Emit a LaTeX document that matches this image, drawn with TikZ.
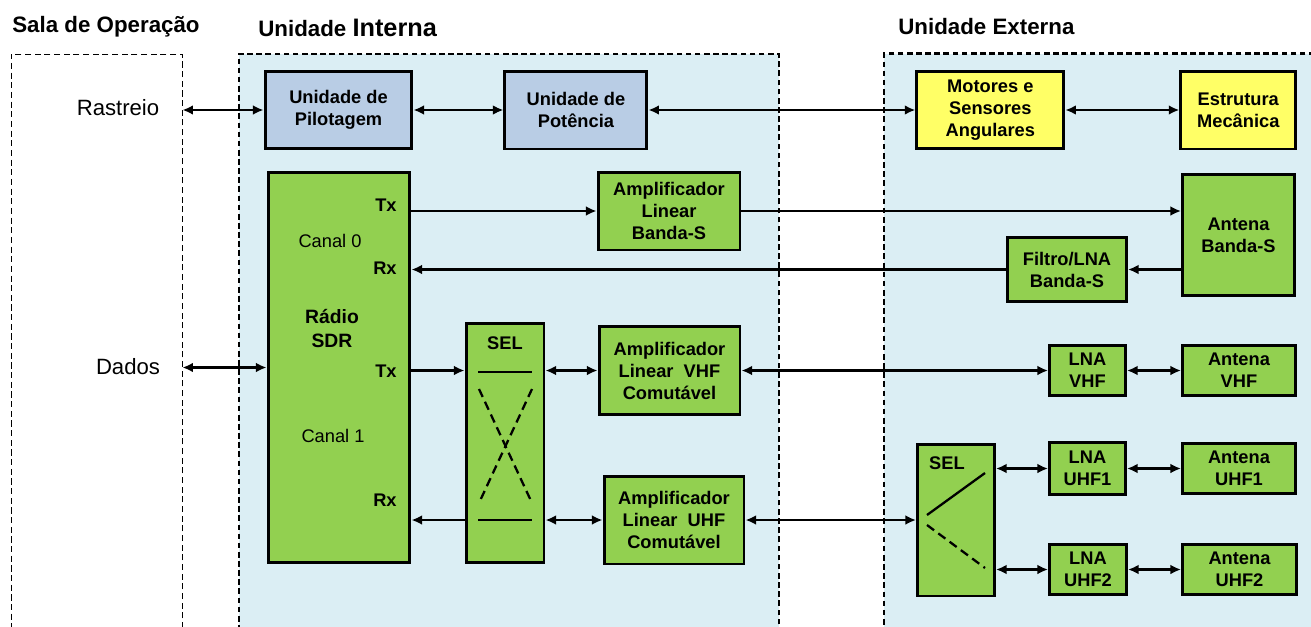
\documentclass[tikz,border=0pt]{standalone}
\usepackage{fontspec}
\setmainfont{Liberation Sans}
\usetikzlibrary{positioning,arrows.meta}
\definecolor{bgblue}{HTML}{DBEEF4}
\definecolor{pilblue}{HTML}{B9CDE5}
\definecolor{motyellow}{HTML}{FFFF66}
\definecolor{sdrgreen}{HTML}{92D050}

\begin{document}
\begin{tikzpicture}[
        x=0.02cm, y=-0.02cm,
        >={Latex[length=6pt,width=5.5pt]},
        blkbox/.style={draw, line width=1.7pt, align=center, inner sep=0.5pt, font=\bfseries\fontsize{10.4}{12.5}\selectfont},
        pilbox/.style={blkbox, fill=pilblue},
        motbox/.style={blkbox, fill=motyellow},
        grnbox/.style={blkbox, fill=sdrgreen},
        unitframe/.style={draw, fill=bgblue, line width=1.4pt, dash pattern=on 3.2pt off 2pt, inner sep=0pt, minimum height=12.12cm},
        salaframe/.style={draw, line width=0.5pt, dash pattern=on 3.5pt off 2pt, inner sep=0pt, minimum width=3.42cm, minimum height=12.12cm},
        titletext/.style={anchor=west, inner sep=0pt, font=\bfseries\fontsize{12.7}{15}\selectfont},
        sidetext/.style={inner sep=0pt, font=\fontsize{12.6}{15}\selectfont},
        chantext/.style={inner sep=0pt, font=\fontsize{10.4}{12.5}\selectfont},
        porttext/.style={anchor=east, inner sep=0pt, font=\bfseries\fontsize{10.4}{12.5}\selectfont},
        link/.style={line width=1.3pt},
        sellink/.style={line width=1.3pt},
        seldash/.style={line width=1.3pt, dash pattern=on 5pt off 3pt}
        ]
        \path[use as bounding box, clip] (0,0) rectangle (1311,626);

        \node[salaframe]                          (sala) at (96.5,357)  {};
        \node[unitframe, minimum width=10.8cm]    (intr) at (509,357)   {};
        \node[unitframe, minimum width=9.12cm]    (extr) at (1112,356.5) {};

        \node[titletext] (t_sala) at (12,27)  {Sala de Operação};
        \node[titletext] (t_intr) at (258,28) {Unidade {\fontsize{14.4}{16}\selectfont Interna}};
        \node[titletext] (t_extr) at (898,27) {Unidade Externa};

        \node[sidetext]  (ras)   at (118,108) {Rastreio};
        \node[sidetext]  (dad)   at (128,367) {Dados};

        \node[pilbox, minimum width=2.94cm, minimum height=1.54cm] (pil) at (338.5,110) {Unidade de\\Pilotagem};
        \node[pilbox, minimum width=2.84cm, minimum height=1.56cm] (pot) [right=1.8cm of pil]  {Unidade de\\Potência};
        \node[motbox, minimum width=2.94cm, minimum height=1.54cm] (mot) [right=5.34cm of pot] {Motores e\\Sensores\\Angulares};
        \node[motbox, minimum width=2.3cm, minimum height=1.56cm]  (est) [right=2.28cm of mot]  {Estrutura\\Mecânica};

        \node[grnbox, minimum width=2.84cm, minimum height=7.82cm] (sdr) at (339,367.5) {};
        \node[porttext]  (tx0)  at (397,205) {Tx};
        \node[chantext]  (ch0)  at (330,241) {Canal 0};
        \node[porttext]  (rx0)  at (397,268) {Rx};
        \node[inner sep=0pt, align=center, font=\bfseries\fontsize{11}{14}\selectfont] (sdrlab) at (332,328.5) {Rádio\\SDR};
        \node[porttext]  (tx1)  at (397,371) {Tx};
        \node[chantext]  (ch1)  at (333,436) {Canal 1};
        \node[porttext]  (rx1)  at (397,500) {Rx};

        \node[grnbox, minimum width=2.84cm, minimum height=1.56cm] (ampS)  at (669,211)    {Amplificador\\Linear\\Banda-S};
        \node[grnbox, minimum width=1.56cm, minimum height=4.8cm]  (sel1)  at (505,443)    {};
        \node[porttext, anchor=center] (sel1lab) at (505,343) {SEL};
        \node[grnbox, minimum width=2.82cm, minimum height=1.76cm] (ampV)  at (669.5,370.5) {Amplificador\\Linear\ \ VHF\\Comutável};
        \node[grnbox, minimum width=2.8cm, minimum height=1.76cm]  (ampU)  at (674,520)    {Amplificador\\Linear\ \ UHF\\Comutável};

        \node[grnbox, minimum width=2.24cm, minimum height=2.42cm] (antS)  at (1238.5,235) {Antena\\Banda-S};
        \node[grnbox, minimum width=2.38cm, minimum height=1.28cm] (filt)  at (1067,269.5)  {Filtro/LNA\\Banda-S};
        \node[grnbox, minimum width=1.52cm, minimum height=1.0cm]  (lnaV)  at (1087.5,370.5) {LNA\\VHF};
        \node[grnbox, minimum width=2.26cm, minimum height=1.0cm]  (antV)  at (1239,370.5)  {Antena\\VHF};
        \node[grnbox, minimum width=1.54cm, minimum height=3.04cm] (sel2)  at (956,520)    {};
        \node[porttext, anchor=center] (sel2lab) at (947,463) {SEL};
        \node[grnbox, minimum width=1.52cm, minimum height=1.04cm] (lnaU1) at (1087.5,468.5) {LNA\\UHF1};
        \node[grnbox, minimum width=2.26cm, minimum height=1.0cm]  (antU1) at (1239,468.5)  {Antena\\UHF1};
        \node[grnbox, minimum width=1.54cm, minimum height=1.0cm]  (lnaU2) at (1088,569.5)  {LNA\\UHF2};
        \node[grnbox, minimum width=2.28cm, minimum height=1.0cm]  (antU2) at (1239.5,569.5) {Antena\\UHF2};

        \draw[sellink] (478,372) -- (532,372);
        \draw[sellink] (478,520) -- (532,520);
        \draw[seldash] (479,389) -- (532,503);
        \draw[seldash] (532,389) -- (479,503);
        \draw[sellink] (927,515) -- (985,473);
        \draw[seldash] (927,525) -- (985,568);

        \draw[link, <->] (sala.east |- pil.west) -- (pil.west);
        \draw[link, <->] (sala.east |- sdr.west) -- (sdr.west);
        \path[link, <->]
        (pil)   edge    (pot)
        (pot)   edge    (mot)
        (mot)   edge    (est);
        \draw[link, ->]  (sdr.east |- ampS.west) -- (ampS.west);
        \draw[link, ->]  (ampS.east) -- (antS.west |- ampS.east);
        \draw[link, ->]  (antS.west |- filt.east) -- (filt.east);
        \draw[link, ->]  (filt.west) -- (sdr.east |- filt.west);
        \draw[link, ->]  (sdr.east |- ampV.west) -- (sel1.west |- ampV.west);
        \draw[link, <->] (sel1.east |- ampV.west) -- (ampV.west);
        \draw[link, ->]  (sel1.west |- ampU.west) -- (sdr.east |- ampU.west);
        \draw[link, <->] (sel1.east |- ampU.west) -- (ampU.west);
        \path[link, <->]
        (ampV)  edge    (lnaV)
        (lnaV)  edge    (antV)
        (ampU)  edge    (sel2)
        (lnaU1) edge    (antU1)
        (lnaU2) edge    (antU2);
        \draw[link, <->] (sel2.east |- lnaU1.west) -- (lnaU1.west);
        \draw[link, <->] (sel2.east |- lnaU2.west) -- (lnaU2.west);
    \end{tikzpicture}
\end{document}
